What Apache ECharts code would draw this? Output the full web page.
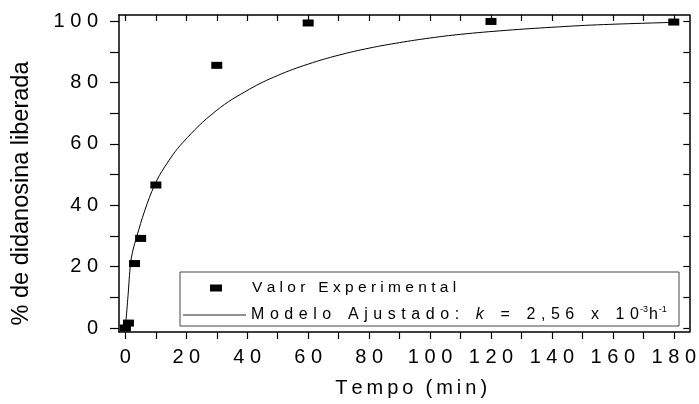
<!DOCTYPE html>
<html>
<head>
<meta charset="utf-8">
<script src="https://cdn.jsdelivr.net/npm/echarts@6/dist/echarts.min.js"></script>
<style>
  html, body { margin: 0; padding: 0; background: #fff; }
  #chart { width: 699px; height: 404px; }
</style>
</head>
<body>
<div id="chart"></div>
<script>
// measured points (min, %)
const tempoExp = [0, 1, 3, 5, 10, 30, 60, 120, 180];
const liberadaExp = [0, 1.6, 21, 29.2, 46.6, 85.6, 99.4, 99.9, 99.7];

// fitted curve
const tempoModelo = [0, 0.9, 1.7, 2.5, 3.7, 6.4, 9.6, 12.9, 18.9, 29.8, 40.7, 50, 60, 70, 80, 90, 100, 110, 125, 140, 155, 180];
const liberadaModelo = [0, 11, 21, 25.4, 29.7, 38.4, 46.6, 52.5, 60.5, 70.8, 77.8, 82.3, 86.0, 88.9, 91.2, 93.0, 94.5, 95.7, 97.0, 98.0, 98.8, 99.6];

// axis ticks
const xLabels = [0, 20, 40, 60, 80, 100, 120, 140, 160, 180];
const xTicks = [0, 10, 20, 30, 40, 50, 60, 70, 80, 90, 100, 110, 120, 130, 140, 150, 160, 170, 180];
const yLabels = [0, 20, 40, 60, 80, 100];
const yTicks = [0, 10, 20, 30, 40, 50, 60, 70, 80, 90, 100];

const FONT = 'Liberation Sans';
const spaced = s => String(s).split('').join(' ');
const thin = s => String(s).split('').join('\u2009');
// rich-text spacing with wider gaps, for the second legend row
const wide = (s, style) => String(s).split('').map(c => c === ' ' ? '{g| }' : `{${style}|${c}}`).join('{g| }');
const gap = n => '{g| }'.repeat(n);

const chart = echarts.init(document.getElementById('chart'), null, { renderer: 'canvas' });

const frameLine = { color: '#000', width: 1.5 };
const tickLine = { color: '#000', width: 1.2 };

function xAxisOf(pos) {
  const bottom = pos === 'bottom';
  return {
    type: 'value',
    position: pos,
    min: -2.1,
    max: 185.1,
    axisLine: { show: true, onZero: false, lineStyle: frameLine },
    axisTick: { show: true, inside: !bottom, length: bottom ? 7 : 6, customValues: xTicks, lineStyle: tickLine },
    axisLabel: {
      show: bottom,
      customValues: xLabels,
      formatter: v => spaced(v),
      color: '#000', fontFamily: FONT, fontSize: 20, margin: 15
    },
    splitLine: { show: false },
    name: bottom ? thin('Tempo') + '\u2009\u2009\u2009' + thin('(min)') : '',
    nameLocation: 'middle',
    nameGap: 46,
    nameTextStyle: { color: '#000', fontFamily: FONT, fontSize: 20, padding: [0, 0, 0, 14] }
  };
}

function yAxisOf(pos) {
  const left = pos === 'left';
  return {
    type: 'value',
    position: pos,
    min: -1.3,
    max: 102,
    axisLine: { show: true, onZero: false, lineStyle: frameLine },
    axisTick: { show: true, inside: !left, length: left ? 9 : 6, customValues: yTicks, lineStyle: tickLine },
    axisLabel: {
      show: left,
      customValues: yLabels,
      formatter: v => spaced(v),
      color: '#000', fontFamily: FONT, fontSize: 20, margin: 21
    },
    splitLine: { show: false },
    name: left ? '% de didanosina liberada' : '',
    nameLocation: 'middle',
    nameGap: 85,
    nameTextStyle: { color: '#000', fontFamily: FONT, fontSize: 23.5, padding: [0, 40, 0, 0] }
  };
}

const modeloLabel =
  wide('Modelo Ajustado:', 't') + gap(3) + '{i|k}' + gap(3) + '{t|=}' + gap(3) +
  wide('2,56', 't') + gap(3) + '{t|x}' + gap(3) + wide('10', 't') +
  '{s|-3}{t|h}{s|-1}';

chart.setOption({
  animation: false,
  backgroundColor: '#fff',
  grid: { left: 119, right: 7, top: 15, bottom: 72 },
  xAxis: [xAxisOf('bottom'), xAxisOf('top')],
  yAxis: [yAxisOf('left'), yAxisOf('right')],
  legend: [
    {
      data: [{ name: 'Valor Experimental', icon: 'rect' }],
      left: 210, top: 280,
      padding: 0,
      itemWidth: 12, itemHeight: 7,
      selectedMode: false,
      formatter: () => 'V a l o r   E x p e r i m e n t a l',
      textStyle: { color: '#000', fontFamily: FONT, fontSize: 15.5, padding: [0, 0, 0, 25] }
    },
    {
      data: [{ name: 'Modelo Ajustado', icon: 'rect' }],
      left: 183, top: 305,
      padding: 0,
      itemWidth: 63, itemHeight: 1,
      itemStyle: { color: '#222' },
      selectedMode: false,
      formatter: () => modeloLabel,
      textStyle: {
        color: '#000', fontFamily: FONT, fontSize: 16,
        rich: {
          t: { fontFamily: FONT, fontSize: 16, color: '#000', lineHeight: 19 },
          g: { fontFamily: FONT, fontSize: 20, color: '#000', lineHeight: 19 },
          i: { fontFamily: FONT, fontSize: 16, fontStyle: 'italic', color: '#000', lineHeight: 19 },
          s: { fontFamily: FONT, fontSize: 9, color: '#000', verticalAlign: 'top', lineHeight: 19, padding: [0, 1, 0, 1] }
        }
      }
    }
  ],
  graphic: [
    {
      type: 'rect',
      shape: { x: 180, y: 272, width: 499, height: 54 },
      style: { fill: 'none', stroke: '#444', lineWidth: 1 },
      z: 1
    }
  ],
  series: [
    {
      name: 'Valor Experimental',
      type: 'scatter',
      data: tempoExp.map((t, i) => [t, liberadaExp[i]]),
      symbol: 'rect',
      symbolSize: [11, 7],
      itemStyle: { color: '#000', opacity: 1 },
      z: 3
    },
    {
      name: 'Modelo Ajustado',
      type: 'line',
      data: tempoModelo.map((t, i) => [t, liberadaModelo[i]]),
      symbol: 'none',
      smooth: 0.4,
      lineStyle: { color: '#000', width: 1 },
      itemStyle: { color: '#000' },
      z: 2
    }
  ]
});
</script>
</body>
</html>
